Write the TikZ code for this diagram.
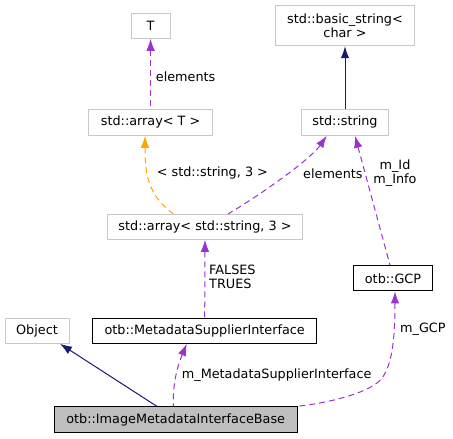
\documentclass[tikz,border=0pt]{standalone}
\usepackage{fontspec}
\setmainfont{DejaVu Sans}
\usetikzlibrary{arrows.meta,positioning,calc}
\definecolor{edgepurple}{HTML}{9A32CD}
\definecolor{edgenavy}{HTML}{191970}
\definecolor{edgeorange}{HTML}{FFA500}
\definecolor{boxgray}{HTML}{C8C8C8}
\definecolor{basefill}{HTML}{BFBFBF}
\tikzset{>={Latex[length=12pt,width=8.5pt]}}
\tikzset{font=\fontsize{12.8}{14.5}\selectfont}
\tikzset{
  cls/.style={draw=boxgray, line width=1pt, inner sep=0pt, align=center},
  docls/.style={draw=black, line width=1pt, inner sep=0pt},
  lbl/.style={inner sep=0pt, anchor=west, align=left},
  member/.style={<-, edgepurple, dash pattern=on 6pt off 4pt, line width=1pt},
  derived/.style={<-, edgenavy, line width=1pt},
  tmplarg/.style={<-, edgeorange, dash pattern=on 6pt off 4pt, line width=1pt}
}

\begin{document}
\begin{tikzpicture}[x=1pt,y=-1pt]
  \useasboundingbox (0,0) rectangle (453,439);
  % classes
  \node[cls, minimum width=39pt, minimum height=25pt] (T) at (150.6,25.8) {T};
  \node[cls, minimum width=138.6pt, minimum height=40pt] (bstr) at (345,25.7) {std::basic\_string<\\char >};
  \node[cls, minimum width=123.3pt, minimum height=26pt] (arrT) at (150.6,122.3) {std::array< T >};
  \node[cls, minimum width=86.6pt, minimum height=26pt] (str) at (345,122.3) {std::string};
  \node[cls, minimum width=194.6pt, minimum height=25pt] (arrS3) at (205,226.8) {std::array< std::string, 3 >};
  \node[docls, minimum width=79.4pt, minimum height=25.3pt] (GCP) at (393,278.3) {otb::GCP};
  \node[cls, minimum width=64pt, minimum height=25pt] (Obj) at (37,330.8) {Object};
  \node[docls, minimum width=224pt, minimum height=25pt] (MSI) at (204.7,330.8) {otb::MetadataSupplierInterface};
  \node[docls, fill=basefill, minimum width=243.3pt, minimum height=25.6pt] (Base) at (175.7,419.5) {otb::ImageMetadataInterfaceBase};
  % connectors
  \draw[member] (T.south) -- (arrT.north);
  \draw[derived] (bstr.south) -- (str.north);
  \draw[tmplarg] ([xshift=-5.6pt]arrT.south) .. controls (145,175) and (148,195) .. ([xshift=-31.7pt]arrS3.north);
  \draw[member] ([xshift=-18.3pt]str.south) .. controls (310,160) and (260,195) .. ([xshift=23.3pt]arrS3.north);
  \draw[member] ([xshift=10pt]str.south) -- ([xshift=-3pt]GCP.north);
  \draw[member] (arrS3.south) -- (MSI.north);
  \draw[derived] ([xshift=23pt]Obj.south) -- ([xshift=-19pt]Base.north);
  \draw[member] ([xshift=-18pt]MSI.south) .. controls (176,370) and (173,385) .. ([xshift=-2.4pt]Base.north);
  \draw[member] ([xshift=2pt]GCP.south) .. controls (395,340) and (392,372) .. (377,383)
    .. controls (360,396) and (320,404) .. (Base.north east);
  % labels
  \node[lbl] (lblTel) at (155.7,76.7) {elements};
  \node[lbl] (lblTmpl) at (156.7,173.3) {< std::string, 3 >};
  \node[lbl] (lblStrEl) at (303,173.3) {elements};
  \node[inner sep=0pt, align=center] (lblId) at (395,173) {m\_Id\\m\_Info};
  \node[lbl] (lblFT) at (209,277) {FALSES\\TRUES};
  \node[lbl] (lblMSI) at (181.7,375) {m\_MetadataSupplierInterface};
  \node[lbl] (lblGCP) at (400,329.3) {m\_GCP};
\end{tikzpicture}
\end{document}
